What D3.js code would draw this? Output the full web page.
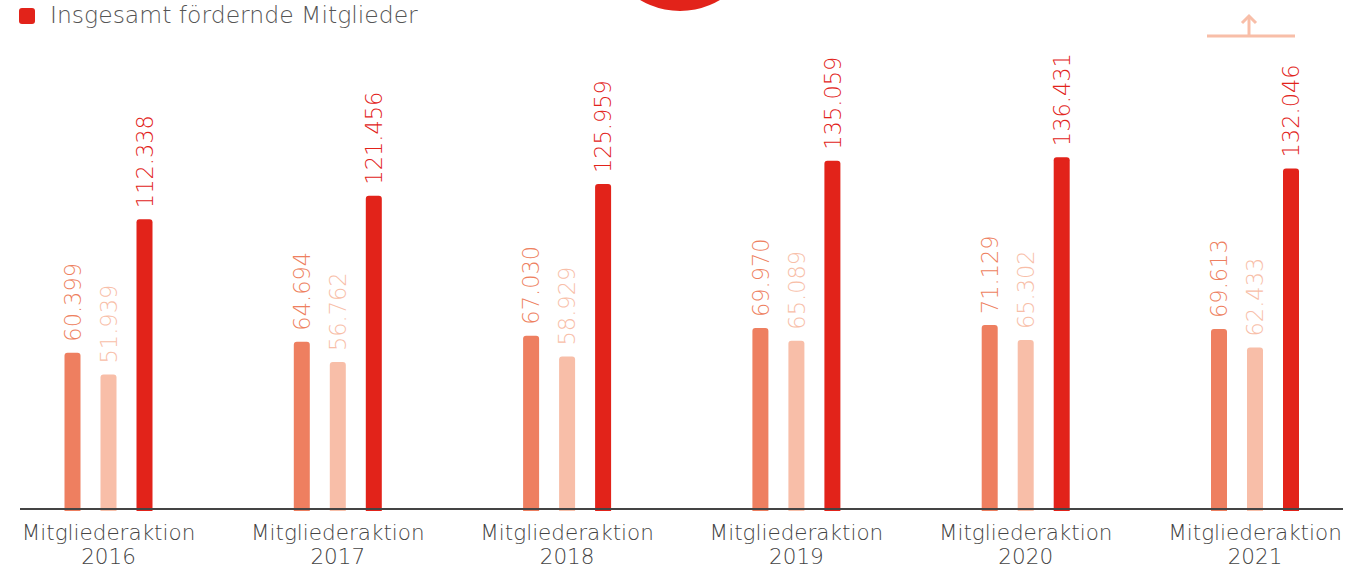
<!DOCTYPE html>
<html>
<head>
<meta charset="utf-8">
<script src="https://cdn.jsdelivr.net/npm/d3@7"></script>
<style>
  body { margin: 0; background: #fff; }
  svg text { font-family: "DejaVu Sans", "Open Sans", sans-serif; font-weight: 200; }
</style>
</head>
<body>
<svg id="chart"></svg>
<script>
var w = 1348;
var h = 567;
var years = ["2016", "2017", "2018", "2019", "2020", "2021"];
var seriesNames = ["s1", "s2", "total"];
var series1 = [60399, 64694, 67030, 69970, 71129, 69613];
var series2 = [51939, 56762, 58929, 65089, 65302, 62433];
var totals = [112338, 121456, 125959, 135059, 136431, 132046];
var legendText = "Insgesamt fördernde Mitglieder";
var tickPrefix = "Mitgliederaktion";
var colors = ["#ee7f60", "#f8bea8", "#e2231a"];

let svg = d3.select("#chart")
    .attr("width", w)
    .attr("height", h);

var base = 508;
var xScale = d3.scalePoint()
    .domain(years)
    .range([108.5, 1255]);
var inner = d3.scalePoint()
    .domain(seriesNames)
    .range([-36, 36]);
var yScale = d3.scaleLinear()
    .domain([0, 140000])
    .range([base, 148]);

var fmt = v => d3.format(",")(v).replace(/,/g, ".");

// build rows
var rows = [];
years.forEach((y, i) => {
    [series1, series2, totals].forEach((s, j) => {
        rows.push({year: y, key: seriesNames[j], value: s[i], color: colors[j]});
    });
});

// top decorations
svg.append("circle")
    .attr("cx", 680).attr("cy", -67).attr("r", 78)
    .attr("fill", "#e2231a");
var arrow = svg.append("g")
    .attr("stroke", "#f8bea8")
    .attr("stroke-width", 3)
    .attr("fill", "none");
arrow.append("line").attr("x1", 1207).attr("x2", 1295).attr("y1", 36).attr("y2", 36);
arrow.append("line").attr("x1", 1249).attr("x2", 1249).attr("y1", 16).attr("y2", 36);
arrow.append("path").attr("d", "M1242,23 L1249,16 L1256,23");

// legend
svg.append("rect")
    .attr("x", 19).attr("y", 8)
    .attr("width", 16).attr("height", 16)
    .attr("rx", 3)
    .attr("fill", colors[2]);
svg.append("text")
    .attr("x", 50).attr("y", 23)
    .attr("font-size", 23.5)
    .attr("fill", "#555")
    .text(legendText);

// bars (rounded top)
var bw = 16;
svg.selectAll(".bar")
    .data(rows)
    .enter()
    .append("path")
    .attr("class", "bar")
    .attr("fill", d => d.color)
    .attr("d", d => {
        var cx = xScale(d.year) + inner(d.key);
        var x0 = cx - bw / 2, x1 = cx + bw / 2;
        var top = yScale(d.value), r = 3, bot = base + 3;
        return `M${x0},${bot} L${x0},${top + r} Q${x0},${top} ${x0 + r},${top} L${x1 - r},${top} Q${x1},${top} ${x1},${top + r} L${x1},${bot} Z`;
    });

// value labels
svg.selectAll(".val")
    .data(rows)
    .enter()
    .append("text")
    .attr("class", "val")
    .attr("transform", d => `translate(${xScale(d.year) + inner(d.key)}, ${yScale(d.value) - 11}) rotate(-90)`)
    .attr("dy", "0.36em")
    .attr("font-size", 22.5)
    .attr("fill", d => d.color)
    .text(d => fmt(d.value));

// axis
svg.append("line")
    .attr("x1", 20).attr("x2", 1343)
    .attr("y1", base + 1).attr("y2", base + 1)
    .attr("stroke", "#444")
    .attr("stroke-width", 2);

var ticks = svg.selectAll(".tick")
    .data(years)
    .enter()
    .append("text")
    .attr("class", "tick")
    .attr("text-anchor", "middle")
    .attr("font-size", 21.5)
    .attr("fill", "#444")
    .attr("transform", d => `translate(${xScale(d)}, 540)`);
ticks.append("tspan").attr("x", 0).text(tickPrefix);
ticks.append("tspan").attr("x", 0).attr("dy", 23.5).text(d => d);
</script>
</body>
</html>
